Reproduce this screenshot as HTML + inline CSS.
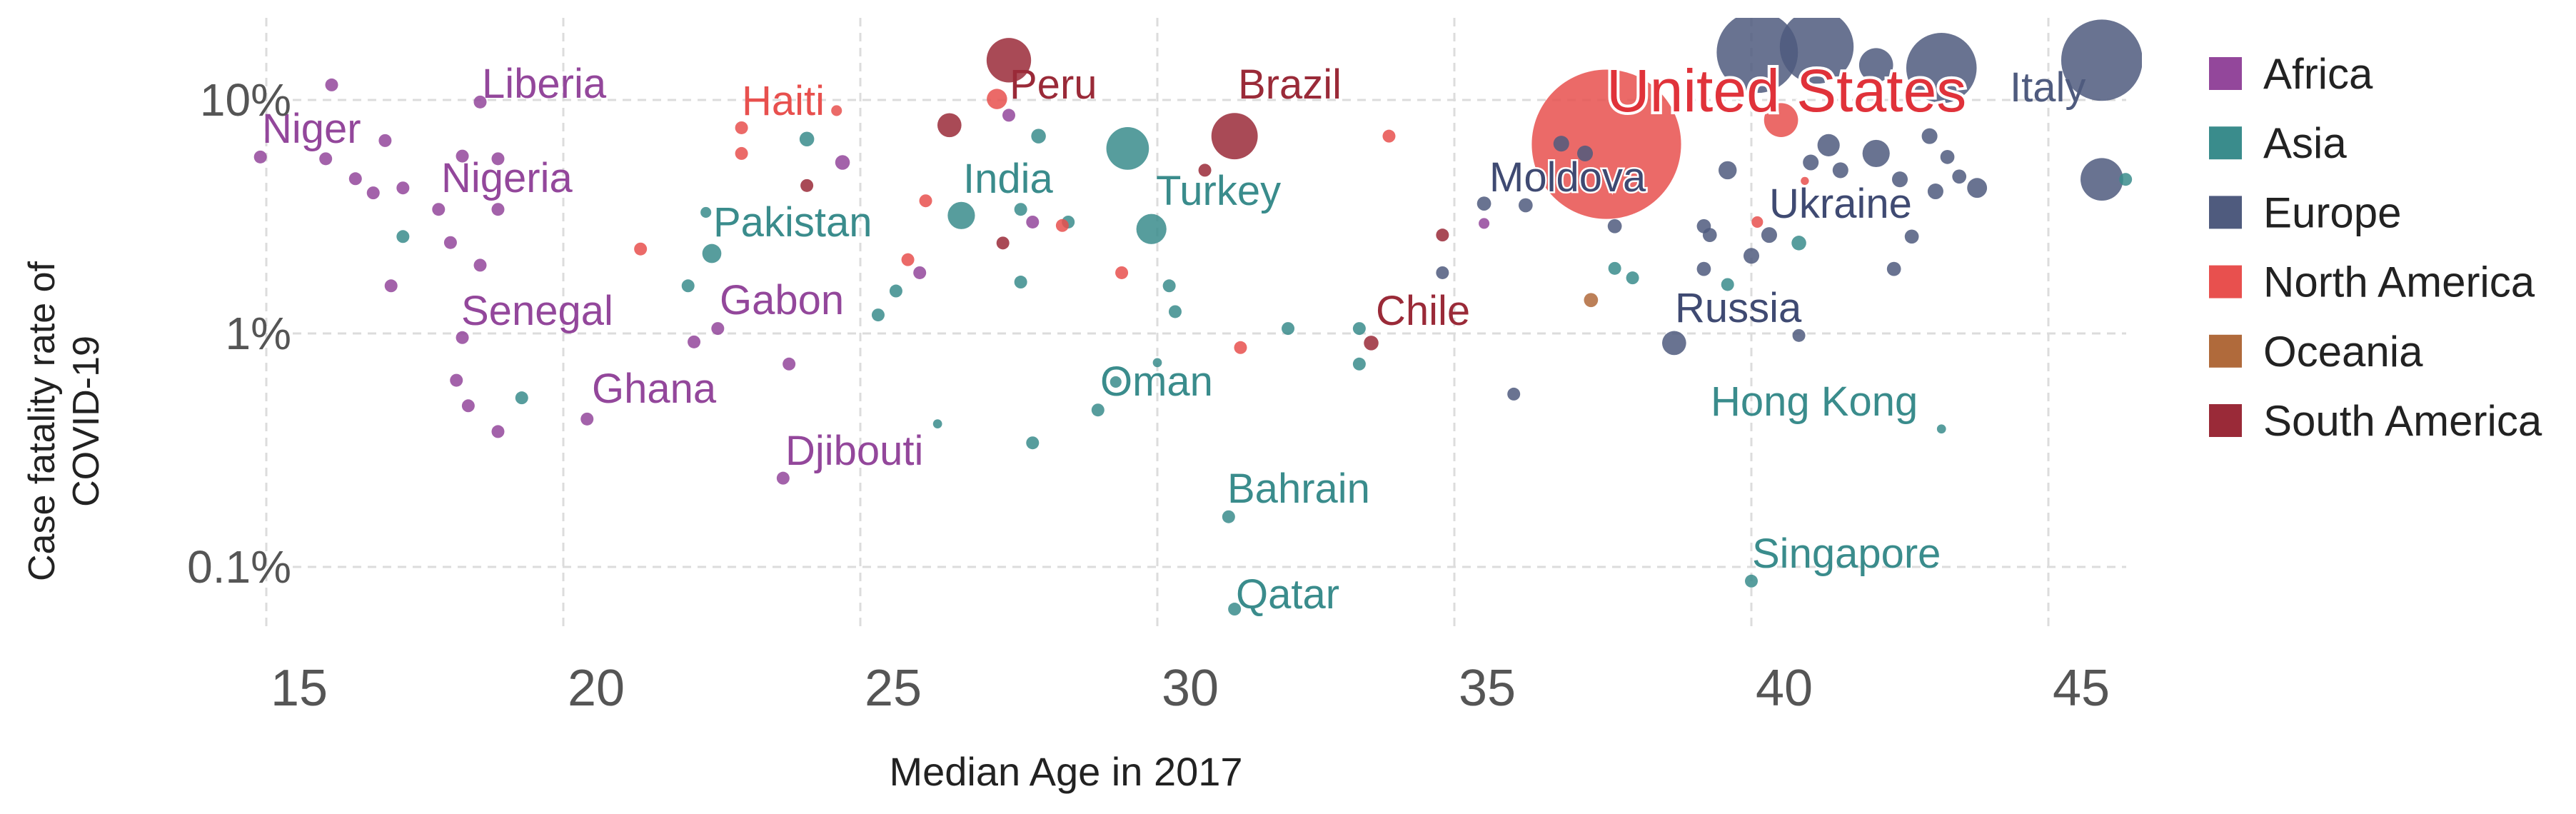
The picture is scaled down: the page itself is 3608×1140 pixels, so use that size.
<!DOCTYPE html>
<html><head><meta charset="utf-8">
<style>
html,body{margin:0;padding:0;background:#fff;}
svg{display:block;font-family:"Liberation Sans",Arial,sans-serif;}
</style></head>
<body>
<svg id="chart" width="3608" height="1140" viewBox="0 0 3608 1140" xmlns="http://www.w3.org/2000/svg">
<defs><clipPath id="plotclip"><rect x="300" y="25" width="2700" height="880"/></clipPath></defs>
<g id="grid"></g>
<g id="points" clip-path="url(#plotclip)"></g>
<g id="labels" font-size="58">
  <text x="675" y="137" fill="#93479b">Liberia</text>
  <text x="367" y="200" fill="#93479b">Niger</text>
  <text x="618" y="269" fill="#93479b">Nigeria</text>
  <text x="1039" y="161" fill="#e8504e">Haiti</text>
  <text x="1414" y="138" fill="#9a2a38">Peru</text>
  <text x="1734" y="138" fill="#9a2a38">Brazil</text>
  <text x="1349" y="270" fill="#3a8c8c">India</text>
  <text x="1619" y="287" fill="#3a8c8c">Turkey</text>
  <text x="999" y="331" fill="#3a8c8c">Pakistan</text>
  <text x="646" y="455" fill="#93479b">Senegal</text>
  <text x="1008" y="440" fill="#93479b">Gabon</text>
  <text x="829" y="564" fill="#93479b">Ghana</text>
  <text x="1100" y="651" fill="#93479b">Djibouti</text>
  <text x="1541" y="554" fill="#3a8c8c">Oman</text>
  <text x="1719" y="704" fill="#3a8c8c">Bahrain</text>
  <text x="1731" y="852" fill="#3a8c8c">Qatar</text>
  <text x="2250" y="156" font-size="84" fill="#e0323a" stroke="#fff" stroke-width="8" paint-order="stroke">United States</text>
  <text x="2815" y="142" fill="#4f5b7e">Italy</text>
  <text x="2086" y="268" fill="#3f4a72" stroke="#fff" stroke-width="5" paint-order="stroke">Moldova</text>
  <text x="2478" y="305" fill="#3f4a72">Ukraine</text>
  <text x="1927" y="455" fill="#9a2a38">Chile</text>
  <text x="2346" y="451" fill="#3f4a72">Russia</text>
  <text x="2396" y="582" fill="#3a8c8c">Hong Kong</text>
  <text x="2454" y="795" fill="#3a8c8c">Singapore</text>
</g>
<g id="axes"></g>
<g font-size="52" fill="#222">
  <text transform="translate(76,590) rotate(-90)" text-anchor="middle">Case fatality rate of</text>
  <text transform="translate(138,590) rotate(-90)" text-anchor="middle">COVID-19</text>
</g>
<text x="1493" y="1100" font-size="56" fill="#222" text-anchor="middle">Median Age in 2017</text>
<g id="legend"></g>
</svg>
<script>
// ---- data ----
const continents = ["Africa","Asia","Europe","North America","Oceania","South America"];
const continentColors = ["#93479b","#3a8c8c","#4f5b7e","#e8504e","#b06a3b","#9a2a38"];
const xTicks = [15,20,25,30,35,40,45];
const yTicks = [0.1,1,10];
const yTickLabels = ["0.1%","1%","10%"];
// points: median age, CFR (%), relative size, continent index
const ages = [
 16.1,18.6,14.9,17.0,16.0,16.5,16.8,17.3,18.3,18.9,17.9,18.9,18.1,18.6,17.1,18.3,18.2,18.4,18.9,20.4,22.2,22.6,23.8,23.7,24.7,26.0,27.5,27.9,35.5,
 24.1,28.0,29.5,26.7,27.7,28.5,29.9,22.4,22.5,17.3,19.3,22.1,25.6,25.3,27.7,30.2,30.3,26.3,27.9,29.0,29.3,30.0,31.2,31.3,32.2,33.4,33.4,37.7,38.0,39.6,40.8,46.3,43.2,40.0,
 40.1,41.1,43.2,45.9,45.9,42.1,41.3,42.1,43.0,41.0,41.5,39.6,42.5,43.3,43.5,43.8,43.1,42.7,42.4,40.3,40.0,39.2,39.3,39.2,37.7,36.2,35.5,38.7,40.8,36.0,34.8,36.8,37.2,
 37.56,40.5,33.9,40.1,40.9,24.6,23.0,23.0,21.3,26.1,25.8,28.4,29.4,31.4,27.3,
 27.5,31.3,26.5,24.1,27.4,30.8,34.8,33.6,
 37.3
];
const cfrs = [
 11.6,9.8,5.7,6.7,5.6,4.6,4.0,4.2,5.75,5.6,3.4,3.4,2.45,1.96,1.6,0.96,0.63,0.49,0.38,0.43,0.92,1.05,0.74,0.24,5.4,1.82,8.6,3.0,2.96,
 6.8,7.0,6.2,3.2,3.4,3.0,2.8,3.3,2.2,2.6,0.53,1.6,1.52,1.2,1.66,1.6,1.24,0.41,0.34,0.47,0.62,0.75,0.164,0.066,1.05,1.05,0.74,1.9,1.73,1.62,2.44,4.57,0.39,0.087,
 16,16.9,13.7,14.8,4.57,14.1,6.4,5.9,7.0,5.4,5.0,5.0,4.57,5.7,4.7,4.2,4.06,2.6,1.89,2.64,2.15,2.88,2.64,1.89,2.88,3.54,3.6,0.91,0.98,0.55,1.82,6.5,5.9,
 6.46,8.2,7.0,3.0,4.5,9.0,7.6,5.9,2.3,3.7,2.07,2.9,1.82,0.87,10.1,
 14.8,7.0,7.8,4.3,2.44,5.0,2.64,0.91,
 1.39
];
const sizes = [
 1,1,1,1,1,1,1,1,1,1,1,1,1,1,1,1,1,1,1,1,1,1,1,1,1.3,1,1,1,0.7,
 1.3,1.3,11,4.5,1,1,5.5,0.7,2.2,1,1,1,1,1,1,1,1,0.5,1,1,0.8,0.5,1,1,1,1,1,1,1,1,1.3,1,0.5,1,
 40,33,30,40,11,7,3,4.5,1.5,1.5,1.5,2,1.5,1.2,1.2,2.4,1.5,1.2,1.2,1.5,1.5,1.2,1.2,1.2,1.2,1.2,1.2,3.5,1,1,1,1.5,1.5,
 135,7,1,0.8,0.4,0.7,1,1,1,1,1,1,1,1,2.5,
 12,13,3.5,1,1,1,1,1.3,
 1.2
];
const groups = [
 0,0,0,0,0,0,0,0,0,0,0,0,0,0,0,0,0,0,0,0,0,0,0,0,0,0,0,0,0,
 1,1,1,1,1,1,1,1,1,1,1,1,1,1,1,1,1,1,1,1,1,1,1,1,1,1,1,1,1,1,1,1,1,1,
 2,2,2,2,2,2,2,2,2,2,2,2,2,2,2,2,2,2,2,2,2,2,2,2,2,2,2,2,2,2,2,2,2,
 3,3,3,3,3,3,3,3,3,3,3,3,3,3,3,
 5,5,5,5,5,5,5,5,
 4
];
// ---- scales ----
const NS = "http://www.w3.org/2000/svg";
function xScale(v){ return 373 + (v - 15) * 83.2; }
function yScale(v){ return 467 - 327 * Math.log10(v); }
function rScale(s){ return 9 * Math.sqrt(s); }
function mk(tag, attrs, parent){ const e = document.createElementNS(NS, tag); for (const k in attrs) e.setAttribute(k, attrs[k]); parent.appendChild(e); return e; }

const grid = document.getElementById('grid');
const axes = document.getElementById('axes');
xTicks.forEach(t => {
  const l = mk('line', {x1:xScale(t), x2:xScale(t), y1:25, y2:880, stroke:'#dcdcdc', 'stroke-width':3, 'stroke-dasharray':'12 9'}, grid);
  
  
  const tx = mk('text', {x:xScale(t)+46, y:988, 'font-size':72, fill:'#555', 'text-anchor':'middle'}, axes);
  tx.textContent = t;
  
  
});
yTicks.forEach((t, i) => {
  const l = mk('line', {x1:410, x2:2978, y1:yScale(t), y2:yScale(t), stroke:'#dcdcdc', 'stroke-width':3, 'stroke-dasharray':'12 9'}, grid);
  
  
  const tx = mk('text', {x:408, y:yScale(t)+22, 'font-size':64, fill:'#555', 'text-anchor':'end'}, axes);
  tx.textContent = yTickLabels[i];
  
  
});

const order = ages.map((_, i) => i).sort((a, b) => sizes[b] - sizes[a]);
const pts = document.getElementById('points');
order.forEach(i => {
  const c = mk('circle', {cx:xScale(ages[i]), cy:yScale(cfrs[i]), r:rScale(sizes[i]), fill:continentColors[groups[i]], 'fill-opacity':0.85}, pts);
  
  
});

const leg = document.getElementById('legend');
continents.forEach((name, i) => {
  const y = 103 + i * 97.2;
  const r = mk('rect', {x:3094, y:y-23, width:46, height:46, fill:continentColors[i]}, leg);
  
  
  const t = mk('text', {x:3170, y:y+21, 'font-size':60, fill:'#222'}, leg);
  t.textContent = name;
  
  
});
</script>
</body></html>
